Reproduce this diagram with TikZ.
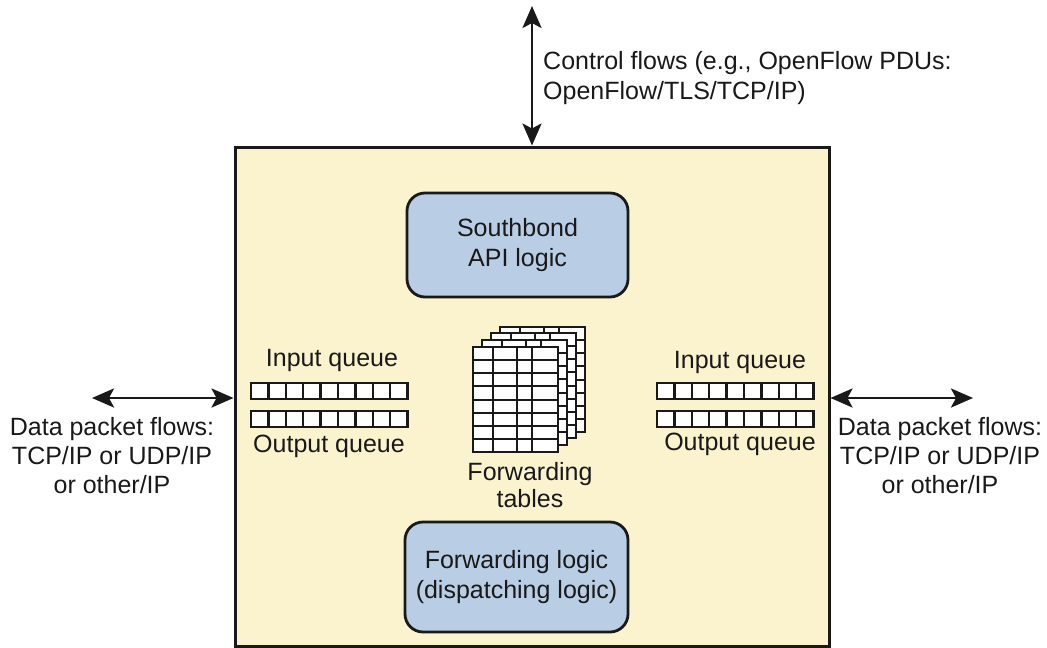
\documentclass[tikz,border=0pt]{standalone}
\usepackage{fontspec}
\setmainfont{Liberation Sans}
\usetikzlibrary{arrows.meta}
\definecolor{switchfill}{RGB}{251,243,206}
\definecolor{logicfill}{RGB}{185,205,228}
\definecolor{ink}{RGB}{25,25,25}
\begin{document}
\begin{tikzpicture}[x=1pt,y=-1pt,
  txt/.style={font=\fontsize{25}{29}\selectfont, text=ink, inner sep=0pt, align=center},
  switchbox/.style={draw=ink, line width=3pt, fill=switchfill,
    minimum width=594pt, minimum height=499pt, inner sep=0pt},
  logicbox/.style={draw=ink, line width=2.8pt, fill=logicfill, rounded corners=18pt,
    inner sep=0pt, align=center, text=ink, font=\fontsize{25}{30}\selectfont},
  flow/.style={line width=2.8pt, draw=ink,
    {Stealth[length=22pt,width=19pt,inset=5pt]}-{Stealth[length=22pt,width=19pt,inset=5pt]}},
  qcell/.style={draw=ink, line width=2.5pt, fill=white},
  sheet/.style={draw=ink, line width=2.2pt, fill=white},
  sheetline/.style={draw=ink, line width=2pt},
]
\useasboundingbox (0,0) rectangle (1047,648);

% switch body
\node[switchbox] (sw) at (532,396.5) {};

% logic blocks
\node[logicbox, minimum width=221pt, minimum height=104pt] (api) at (517.5,245)
  {Southbond\\API logic};
\node[logicbox, minimum width=223pt, minimum height=110pt] (fwd) at (516.5,577)
  {Forwarding logic\\(dispatching logic)};

% queues (input on top, output below)
\foreach \qx in {251,657}{
  \foreach \i in {0,...,8}{
    \draw[qcell] (\qx+\i*17.4,383) rectangle ++(17.4,16);
    \draw[qcell] (\qx+\i*17.4,411) rectangle ++(17.4,16);
  }
}
\node[txt] (inl) at (332,360) {Input queue};
\node[txt] (outl) at (329,446) {Output queue};
\node[txt] (inr) at (740,362) {Input queue};
\node[txt] (outr) at (740,444) {Output queue};

% forwarding tables: stacked sheets, back to front
\foreach \dx/\dy in {27/-20, 18/-14, 9/-7, 0/0}{
  \begin{scope}[shift={(473+\dx,347+\dy)}]
    \draw[sheet] (0,0) rectangle (85,105);
    \foreach \r in {1,...,7}
      \draw[sheetline] (0,\r*13.125) -- (85,\r*13.125);
    \foreach \c in {20,44,59}
      \draw[sheetline] (\c,0) -- (\c,105);
  \end{scope}
}
\node[txt, font=\fontsize{25}{27}\selectfont] (tbl) at (530,485) {Forwarding\\tables};

% external flows
\coordinate (ctltip) at (532,6);
\coordinate (lefttip) at (92,398);
\coordinate (righttip) at (973,398);
\draw[flow] (ctltip) -- (sw.north);
\draw[flow] (lefttip) -- (lefttip -| sw.west);
\draw[flow] (righttip) -- (righttip -| sw.east);

\node[txt, align=left, anchor=west, font=\fontsize{25}{30}\selectfont] (ctl) at (543,78)
  {Control flows (e.g., OpenFlow PDUs:\\OpenFlow/TLS/TCP/IP)};
\node[txt] (dl) at (112,456) {Data packet flows:\\TCP/IP or UDP/IP\\or other/IP};
\node[txt] (dr) at (940,456) {Data packet flows:\\TCP/IP or UDP/IP\\or other/IP};
\end{tikzpicture}
\end{document}
